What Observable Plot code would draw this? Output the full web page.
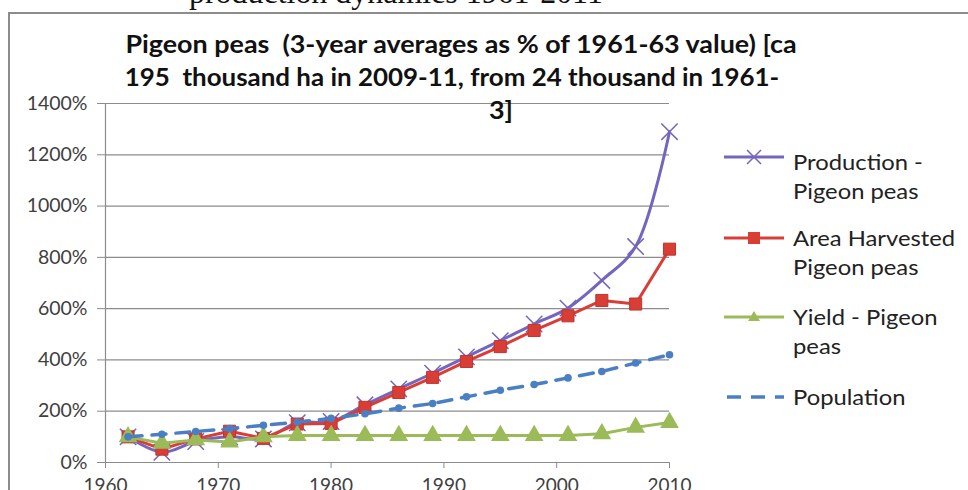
<!DOCTYPE html>
<html>
<head>
<meta charset="utf-8">
<script src="https://cdn.jsdelivr.net/npm/d3@7"></script>
<script src="https://cdn.jsdelivr.net/npm/@observablehq/plot@0.6"></script>
<style>
  html, body { margin: 0; padding: 0; background: #fff; }
  #wrap { position: relative; width: 968px; height: 490px; overflow: hidden; background: #fff; }
  #frame { position: absolute; left: 8px; top: 12px; width: 1000px; height: 600px; border: 2px solid #8c8c8c; box-sizing: border-box; }
  #doc { position: absolute; left: 189px; top: -23px; font-family: "Liberation Serif", serif; font-size: 31px; line-height: 31px; white-space: nowrap; color: #111; transform: scaleX(1.03); transform-origin: left; }
  .t { position: absolute; font-family: Lato, sans-serif; font-weight: bold; font-size: 24px; line-height: 24px; white-space: nowrap; color: #111; }
  #chart { position: absolute; left: 0; top: 0; }
  .lg { position: absolute; font-family: Lato, sans-serif; font-size: 20.5px; line-height: 20px; white-space: nowrap; color: #222; transform: scaleX(1.16); transform-origin: left; }
  .sw { position: absolute; }
</style>
</head>
<body>
<div id="wrap">
  <div id="doc">production dynamics 1961-2011</div>
  <div id="frame"></div>
  <div id="chart"></div>
  <div class="t" id="t1" style="left:461px; top:32px; transform:translateX(-50%) scaleX(1.12);">Pigeon peas&nbsp; (3-year averages as % of 1961-63 value) [ca</div>
  <div class="t" id="t2" style="left:452px; top:65px; transform:translateX(-50%) scaleX(1.08);">195&nbsp; thousand ha in 2009-11, from 24 thousand in 1961-</div>
  <div class="t" id="t3" style="left:489px; top:98px; transform:scaleX(1.12); transform-origin:left;">3]</div>
  <div id="legend"></div>
</div>
<script>
const years = [1962, 1965, 1968, 1971, 1974, 1977, 1980, 1983, 1986, 1989, 1992, 1995, 1998, 2001, 2004, 2007, 2010];
const production = [100, 40, 82, 100, 92, 155, 160, 225, 287, 348, 412, 475, 540, 602, 710, 842, 1290];
const areaHarvested = [100, 52, 92, 122, 94, 150, 152, 215, 273, 332, 394, 452, 515, 572, 632, 618, 832];
const yieldValues = [100, 75, 88, 80, 100, 105, 105, 105, 105, 105, 105, 105, 105, 105, 112, 137, 156];
const population = [100, 110, 121, 132, 145, 158, 172, 190, 212, 230, 256, 282, 304, 330, 355, 388, 420];
const seriesNames = ["Production - Pigeon peas", "Area Harvested Pigeon peas", "Yield - Pigeon peas", "Population"];
const legendLines = [["Production -", "Pigeon peas"], ["Area Harvested", "Pigeon peas"], ["Yield - Pigeon", "peas"], ["Population"]];
const xTicks = [1960, 1970, 1980, 1990, 2000, 2010];
const yTicks = [0, 200, 400, 600, 800, 1000, 1200, 1400];

const colors = ["#7466BE", "#D83E36", "#9BBB59", "#4A7FC4"];
const rows = (vals) => years.map((y, i) => ({year: y, value: vals[i]}));
const prod = rows(production), area = rows(areaHarvested), yld = rows(yieldValues), pop = rows(population);

const axisColor = "#8c8c8c";
const chart = Plot.plot({
  width: 968,
  height: 490,
  marginLeft: 105,
  marginRight: 299,
  marginTop: 103,
  marginBottom: 28,
  style: {fontFamily: "Lato, sans-serif", fontSize: "18px", color: "#404040", background: "transparent", overflow: "visible"},
  x: {domain: [1960, 2010], label: null},
  y: {domain: [0, 1400], label: null},
  marks: [
    Plot.gridY(yTicks, {stroke: axisColor, strokeOpacity: 1, strokeWidth: 1.2}),
    Plot.axisY(yTicks, {tickFormat: d => d + "%", tickSize: 8, tickPadding: 10, stroke: axisColor, strokeOpacity: 1, fill: "#404040", fontSize: 19.5, letterSpacing: 2.8}),
    Plot.axisX(xTicks, {tickFormat: d => String(d), tickSize: 6, tickPadding: 10, stroke: axisColor, strokeOpacity: 1, fill: "#404040", fontSize: 19, letterSpacing: 1.8}),
    Plot.ruleX([1960], {stroke: axisColor, strokeWidth: 1.2}),
    Plot.ruleY([0], {stroke: axisColor, strokeWidth: 1.2}),
    Plot.line(prod, {x: "year", y: "value", stroke: colors[0], strokeWidth: 3, curve: "catmull-rom"}),
    Plot.dot(prod, {x: "year", y: "value", symbol: "times", stroke: colors[0], strokeWidth: 1.5, r: 7.5}),
    Plot.line(area, {x: "year", y: "value", stroke: colors[1], strokeWidth: 3}),
    Plot.dot(area, {x: "year", y: "value", symbol: "square", fill: colors[1], stroke: "#c0352f", strokeWidth: 1, r: 6.8}),
    Plot.line(yld, {x: "year", y: "value", stroke: colors[2], strokeWidth: 3}),
    Plot.dot(yld, {x: "year", y: "value", symbol: "triangle", fill: colors[2], stroke: colors[2], r: 6}),
    Plot.line(pop, {x: "year", y: "value", stroke: colors[3], strokeWidth: 3.5, strokeDasharray: "14,10"}),
    Plot.dot(pop, {x: "year", y: "value", fill: colors[3], r: 3.8})
  ]
});
document.getElementById("chart").appendChild(chart);

// Legend
const legend = document.getElementById("legend");
const swatchY = [157, 238, 317, 397];
const textTops = [[152, 181], [228, 257], [307, 336], [387]];
const ns = "http://www.w3.org/2000/svg";
seriesNames.forEach((name, i) => {
  const svg = document.createElementNS(ns, "svg");
  svg.setAttribute("class", "sw");
  svg.setAttribute("width", 60);
  svg.setAttribute("height", 20);
  svg.style.left = "724px";
  svg.style.top = (swatchY[i] - 10) + "px";
  const line = document.createElementNS(ns, "line");
  line.setAttribute("x1", 0); line.setAttribute("x2", 60);
  line.setAttribute("y1", 10); line.setAttribute("y2", 10);
  line.setAttribute("stroke", colors[i]);
  line.setAttribute("stroke-width", 3);
  if (i === 3) { line.setAttribute("stroke-dasharray", "14,10"); line.setAttribute("x1", 3); line.setAttribute("stroke-width", 3.5); }
  svg.appendChild(line);
  if (i === 0) {
    const p = document.createElementNS(ns, "path");
    p.setAttribute("d", "M23,3 L37,17 M23,17 L37,3");
    p.setAttribute("stroke", colors[0]); p.setAttribute("stroke-width", 1.5);
    svg.appendChild(p);
  } else if (i === 1) {
    const r = document.createElementNS(ns, "rect");
    r.setAttribute("x", 24); r.setAttribute("y", 4); r.setAttribute("width", 12); r.setAttribute("height", 12);
    r.setAttribute("fill", colors[1]);
    svg.appendChild(r);
  } else if (i === 2) {
    const p = document.createElementNS(ns, "path");
    p.setAttribute("d", "M30,4 L36,14 L24,14 Z");
    p.setAttribute("fill", colors[2]);
    svg.appendChild(p);
  }
  legend.appendChild(svg);
  legendLines[i].forEach((txt, j) => {
    const d = document.createElement("div");
    d.className = "lg";
    d.style.left = "793px";
    d.style.top = textTops[i][j] + "px";
    d.textContent = txt;
    legend.appendChild(d);
  });
});
</script>
</body>
</html>
